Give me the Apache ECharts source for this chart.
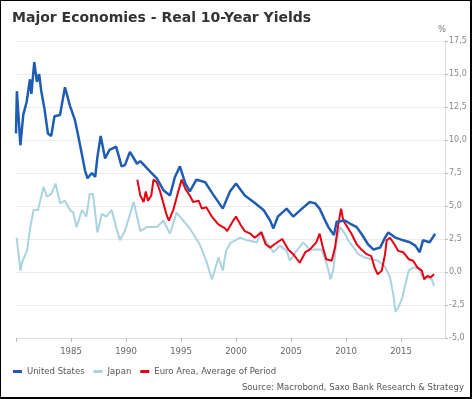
<!DOCTYPE html>
<html>
<head>
<meta charset="utf-8">
<script src="https://cdn.jsdelivr.net/npm/echarts@6/dist/echarts.min.js"></script>
<style>
  html, body { margin: 0; padding: 0; background: #fff; }
  #frame { width: 469px; height: 396px; border-style: solid; border-color: #000; border-width: 1px 2px 2px 1px; }
  #main { width: 469px; height: 396px; }
</style>
</head>
<body>
<div id="frame"><div id="main"></div></div>
<script>
  // values (year, percent)
  var usYears = [1980.0, 1980.08, 1980.4, 1980.66, 1980.97, 1981.27, 1981.4, 1981.66, 1981.9, 1982.1, 1982.3, 1982.6, 1982.9,
    1983.2, 1983.5, 1984.0, 1984.45, 1984.9, 1985.36, 1985.66, 1985.97, 1986.27, 1986.5, 1986.9, 1987.2, 1987.4, 1987.7,
    1988.1, 1988.5, 1989.1, 1989.6, 1989.9, 1990.36, 1991.0, 1991.3, 1992.2, 1992.8, 1993.4, 1994.0, 1994.45, 1994.9,
    1995.4, 1995.8, 1996.4, 1997.2, 1997.9, 1998.8, 1999.45, 2000.0, 2000.8, 2001.6, 2002.5, 2003.1, 2003.4, 2003.8,
    2004.6, 2005.2, 2006.0, 2006.7, 2007.2, 2007.6, 2008.1, 2008.4, 2008.9, 2009.15, 2009.9, 2010.5, 2010.97, 2011.4,
    2012.0, 2012.5, 2013.1, 2013.55, 2013.85, 2014.5, 2015.2, 2015.8, 2016.3, 2016.7, 2017.0, 2017.6, 2018.1];
  var usValues = [10.5, 13.7, 9.6, 11.9, 12.9, 14.6, 13.5, 15.9, 14.4, 15.0, 13.7, 12.3, 10.5,
    10.3, 11.8, 11.9, 14.0, 12.6, 11.5, 10.3, 9.0, 7.7, 7.1, 7.5, 7.2, 8.7, 10.3,
    8.6, 9.25, 9.5, 8.0, 8.1, 9.1, 8.2, 8.4, 7.6, 7.1, 6.2, 5.8, 7.2, 8.0,
    6.7, 6.1, 7.0, 6.8, 5.9, 4.8, 6.1, 6.7, 5.8, 5.3, 4.7, 3.9, 3.3, 4.2,
    4.8, 4.2, 4.8, 5.3, 5.2, 4.8, 3.9, 3.4, 2.8, 3.8, 3.9, 3.6, 3.4, 2.9,
    2.1, 1.7, 1.85, 2.6, 3.0, 2.6, 2.4, 2.25, 2.0, 1.5, 2.4, 2.25, 2.9];

  var jpYears = [1980.05, 1980.2, 1980.4, 1980.6, 1981.0, 1981.3, 1981.6, 1982.0, 1982.5, 1982.8, 1983.2, 1983.6, 1984.0,
    1984.45, 1984.9, 1985.2, 1985.5, 1986.0, 1986.4, 1986.7, 1987.0, 1987.4, 1987.8, 1988.2, 1988.7, 1989.1, 1989.45,
    1989.9, 1990.3, 1990.7, 1991.3, 1991.9, 1992.8, 1993.4, 1994.0, 1994.6, 1995.2, 1995.8, 1996.4, 1996.7, 1997.3,
    1997.8, 1998.0, 1998.4, 1998.8, 1999.1, 1999.5, 2000.4, 2001.0, 2001.9, 2002.3, 2002.8, 2003.4, 2004.0, 2004.6,
    2004.9, 2005.5, 2006.1, 2006.7, 2007.2, 2007.8, 2008.25, 2008.6, 2008.85, 2009.15, 2009.45, 2009.9, 2010.2, 2010.7,
    2011.1, 2011.7, 2012.3, 2012.9, 2013.5, 2014.0, 2014.3, 2014.5, 2014.75, 2015.1, 2015.4, 2015.7, 2016.1, 2016.6,
    2016.9, 2017.3, 2017.8, 2018.0];
  var jpValues = [2.6, 1.6, 0.1, 0.85, 1.6, 3.4, 4.7, 4.7, 6.45, 5.7, 5.9, 6.7, 5.2,
    5.4, 4.7, 4.5, 3.4, 4.7, 4.2, 5.9, 5.9, 3.0, 4.4, 4.2, 4.7, 3.4, 2.4,
    3.1, 4.2, 5.3, 3.1, 3.4, 3.4, 3.9, 2.9, 4.5, 3.9, 3.3, 2.5, 2.1, 0.85,
    -0.55, -0.05, 1.1, 0.1, 1.6, 2.2, 2.6, 2.4, 2.25, 3.1, 2.25, 1.5, 2.0, 1.6,
    0.85, 1.6, 2.25, 1.7, 1.7, 1.7, 0.6, -0.55, 0.2, 2.4, 3.4, 2.9, 2.4, 1.85,
    1.35, 1.1, 0.97, 0.85, 0.46, -0.4, -1.7, -3.0, -2.7, -2.0, -0.94, 0.1, 0.33, 0.33,
    -0.3, -0.4, -0.55, -1.07];

  var euYears = [1991.03, 1991.3, 1991.6, 1991.8, 1992.0, 1992.3, 1992.5, 1992.8, 1993.1, 1993.4, 1993.7, 1993.9, 1994.3,
    1994.75, 1995.06, 1995.4, 1995.8, 1996.1, 1996.6, 1996.9, 1997.3, 1997.8, 1998.4, 1999.0, 1999.2, 1999.75, 2000.0,
    2000.4, 2000.8, 2001.3, 2001.7, 2002.3, 2002.7, 2003.1, 2003.5, 2004.2, 2004.75, 2005.2, 2005.8, 2006.3, 2006.7,
    2007.3, 2007.6, 2007.9, 2008.2, 2008.7, 2009.0, 2009.3, 2009.55, 2009.75, 2010.05, 2010.5, 2010.97, 2011.4, 2011.88,
    2012.3, 2012.6, 2012.88, 2013.25, 2013.55, 2013.7, 2014.0, 2014.4, 2014.75, 2015.2, 2015.7, 2016.1, 2016.5, 2016.9,
    2017.1, 2017.4, 2017.7, 2018.0];
  var euValues = [7.0, 5.8, 5.3, 6.1, 5.4, 5.8, 7.0, 6.8, 6.1, 5.2, 4.3, 3.9, 4.7,
    6.1, 7.0, 6.3, 5.8, 5.3, 5.4, 4.8, 4.9, 4.2, 3.6, 3.3, 3.1, 3.9, 4.2,
    3.6, 3.1, 2.9, 2.6, 3.0, 2.1, 1.85, 2.1, 2.5, 1.7, 1.35, 0.7, 1.5, 1.7,
    2.25, 2.9, 1.85, 0.97, 0.85, 1.85, 3.6, 4.8, 3.9, 3.5, 2.9, 2.1, 1.7, 1.35,
    1.2, 0.33, -0.17, 0.1, 1.35, 2.4, 2.6, 2.1, 1.6, 1.5, 0.97, 0.85, 0.33, 0.1,
    -0.55, -0.3, -0.4, -0.17];

  var seriesNames = ['United States', 'Japan', 'Euro Area, Average of Period'];
  var seriesColors = ['#1f5db5', '#a9d3df', '#e60012'];

  function pairs(xs, ys) {
    return xs.map(function (x, i) { return [x, ys[i]]; });
  }

  var chart = echarts.init(document.getElementById('main'));
  chart.setOption({
    animation: false,
    textStyle: {fontFamily: 'DejaVu Sans'},
    title: {
      text: 'Major Economies - Real 10-Year Yields',
      left: 6, top: 5,
      textStyle: {fontSize: 14, fontWeight: 'bold', color: '#333', fontFamily: 'DejaVu Sans'}
    },
    grid: {left: 15, right: 25, top: 40, bottom: 59},
    legend: {
      left: 7, top: 361,
      icon: 'rect', itemWidth: 9, itemHeight: 3, itemGap: 9,
      textStyle: {fontSize: 8.5, color: '#555'},
      data: seriesNames
    },
    graphic: [
      {type: 'text', right: 6, top: 382, style: {text: 'Source: Macrobond, Saxo Bank Research & Strategy', fontSize: 8.5, fill: '#555', fontFamily: 'DejaVu Sans'}},
      {type: 'text', left: 437, top: 24, style: {text: '%', fontSize: 8.5, fill: '#777', fontFamily: 'DejaVu Sans'}}
    ],
    xAxis: {
      type: 'value', min: 1980, max: 2019, interval: 5,
      axisLine: {onZero: false, lineStyle: {color: '#dcdcdc'}},
      axisTick: {show: true, length: 4, lineStyle: {color: '#bbb'}},
      axisLabel: {
        fontSize: 8.5, color: '#666', margin: 9, showMaxLabel: false,
        formatter: function (v) { return (v % 5 === 0 && v > 1980) ? String(v) : ''; }
      },
      splitLine: {show: false}
    },
    yAxis: {
      type: 'value', position: 'right', min: -5, max: 17.5, interval: 2.5,
      axisLine: {show: true, lineStyle: {color: '#dcdcdc'}},
      axisTick: {show: true, length: 3, lineStyle: {color: '#bbb'}},
      axisLabel: {
        fontSize: 8, color: '#888', margin: 4,
        formatter: function (v) { return v.toFixed(1).replace('.', ','); }
      },
      splitLine: {lineStyle: {color: '#ececec'}}
    },
    series: [
      {name: seriesNames[1], type: 'line', showSymbol: false, color: seriesColors[1], lineStyle: {width: 2}, data: pairs(jpYears, jpValues)},
      {name: seriesNames[2], type: 'line', showSymbol: false, color: seriesColors[2], lineStyle: {width: 2}, data: pairs(euYears, euValues)},
      {name: seriesNames[0], type: 'line', showSymbol: false, color: seriesColors[0], lineStyle: {width: 2.5}, data: pairs(usYears, usValues)}
    ]
  });
</script>
</body>
</html>
